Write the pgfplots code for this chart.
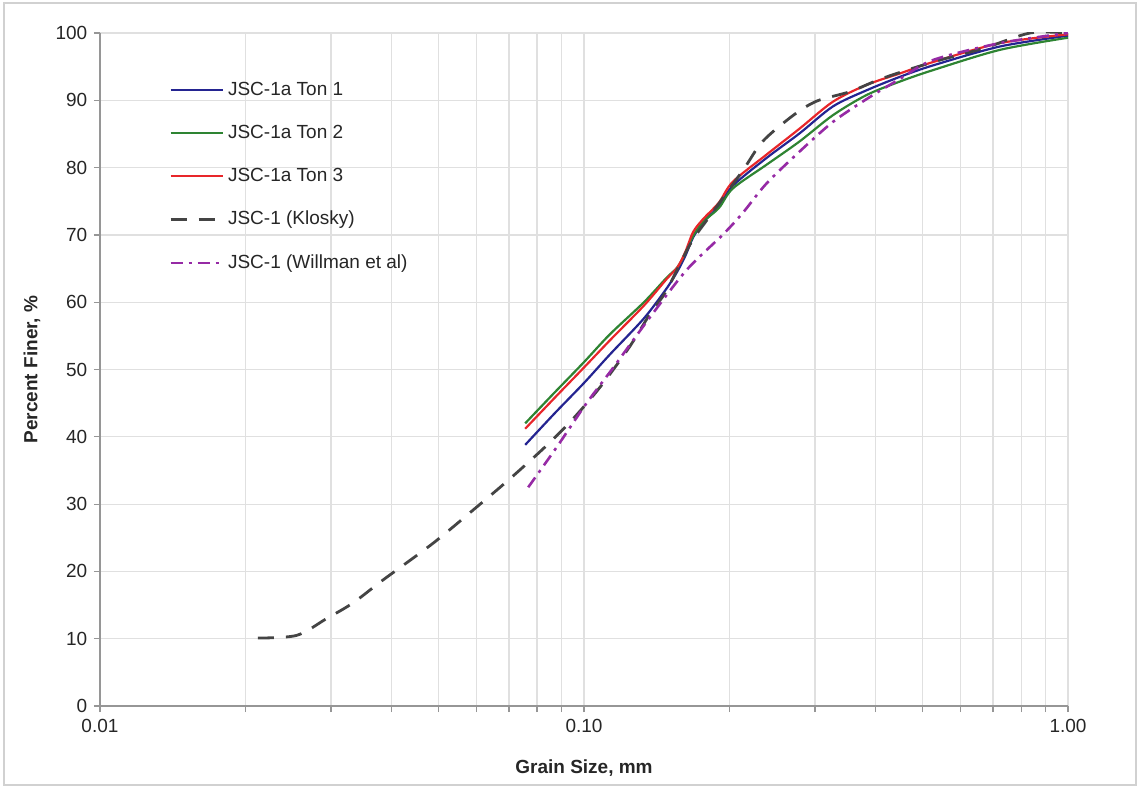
\documentclass[border=0pt]{standalone}
\usepackage{fontspec}
\setmainfont{Liberation Sans}
\usepackage{pgfplots}
\pgfplotsset{compat=1.18}
\definecolor{tonblue}{RGB}{36,36,145}
\definecolor{tongreen}{RGB}{46,132,50}
\definecolor{tonred}{RGB}{232,38,42}
\definecolor{klosky}{RGB}{68,68,68}
\definecolor{willman}{RGB}{150,42,165}
\definecolor{gridc}{RGB}{224,224,224}
\definecolor{axisc}{RGB}{150,150,150}
\pgfplotstableread{
x y
0.0756 38.8
0.0870 43.5
0.1000 48.0
0.1130 52.2
0.1330 57.6
0.1480 62.0
0.1560 64.6
0.1620 66.9
0.1680 69.6
0.1760 71.8
0.1900 74.3
0.2030 77.3
0.2380 81.4
0.2790 85.1
0.3270 89.1
0.3840 91.5
0.4500 93.5
0.5270 95.2
0.7240 98.0
1.0000 99.6
}\tonone
\pgfplotstableread{
x y
0.0756 42.0
0.0870 46.6
0.1000 51.1
0.1130 55.2
0.1330 60.0
0.1480 63.6
0.1560 65.2
0.1620 67.3
0.1680 69.8
0.1760 71.9
0.1900 74.0
0.2030 76.9
0.2380 80.4
0.2790 83.9
0.3270 87.8
0.3840 90.8
0.4500 92.8
0.5270 94.5
0.7240 97.5
1.0000 99.3
}\tontwo
\pgfplotstableread{
x y
0.0756 41.2
0.0870 45.8
0.1000 50.3
0.1130 54.3
0.1330 59.5
0.1480 63.4
0.1560 65.2
0.1620 67.5
0.1680 70.4
0.1760 72.3
0.1900 74.8
0.2030 77.9
0.2380 81.9
0.2790 85.8
0.3270 89.8
0.3840 92.3
0.4500 94.0
0.5270 95.7
0.7240 98.5
1.0000 99.8
}\tonthree
\pgfplotstableread{
x y
0.0212 10.1
0.0255 10.5
0.0294 13.0
0.0333 15.3
0.0384 18.7
0.0488 24.2
0.0601 29.6
0.0704 33.8
0.0837 38.7
0.0950 42.7
0.1080 47.4
0.1240 53.3
0.1370 58.3
0.1480 61.7
0.1660 68.7
0.1820 72.8
0.2130 79.6
0.2340 83.9
0.2710 87.8
0.3030 89.9
0.3550 91.3
0.4150 93.3
0.5270 95.7
0.6680 97.7
0.8350 100.0
1.0000 100.0
}\kloskytab
\pgfplotstableread{
x y
0.0767 32.5
0.0879 38.5
0.1010 44.9
0.1150 50.3
0.1370 57.8
0.1630 64.8
0.1940 70.1
0.2130 73.3
0.2380 77.6
0.2790 82.4
0.3270 86.8
0.3840 90.2
0.4500 93.2
0.5270 96.0
0.7240 98.5
1.0000 100.0
}\willmantab
\begin{document}
\fontsize{9.5bp}{11bp}\selectfont
\begin{tikzpicture}[x=1bp,y=1bp]
\useasboundingbox (0,0) rectangle (570,394);
\draw[black!18, line width=0.7bp] (2,1.5) rectangle (568,392.5);
\begin{axis}[
  at={(50bp,41bp)}, anchor=south west,
  scale only axis, width=484bp, height=336.5bp,
  xmode=log, xmin=0.01, xmax=1, ymin=0, ymax=100,
  xtick={0.01,0.1,1}, xticklabels={0.01,0.10,1.00},
  ytick={0,10,...,100},
  /pgf/number format/assume math mode=true,
  ticklabel style={font=\fontsize{9.5bp}{11bp}\selectfont, text=black!85},
  axis lines*=left, axis line style={-, axisc, line width=0.8bp},
  tick align=outside,
  major tick length=3bp, minor tick length=3bp,
  tick style={axisc, line width=0.6bp},
  xmajorgrids, xminorgrids, ymajorgrids,
  major grid style={gridc, line width=0.6bp},
  minor grid style={gridc, line width=0.6bp},
  xlabel={Grain Size, mm},
  ylabel={Percent Finer, \%},
  label style={font=\fontsize{9.5bp}{11bp}\selectfont\bfseries, text=black!85},
  xlabel style={at={(axis description cs:0.5,-0.0921)}, anchor=center},
  ylabel style={at={(axis description cs:-0.0702,0.5)}, anchor=center, rotate=0},
  legend cell align=left,
  legend style={draw=none, fill=none, at={(0.065,0.94)}, anchor=north west,
    font=\fontsize{9.5bp}{11bp}\selectfont, text=black!85, row sep=9.5bp},
  legend image code/.code={\draw[#1] (0bp,0bp) -- (26bp,0bp);},
]
\addplot[tonblue, line width=1.1bp, smooth] table {\tonone};
\addlegendentry{JSC-1a Ton 1}
\addplot[tongreen, line width=1.1bp, smooth] table {\tontwo};
\addlegendentry{JSC-1a Ton 2}
\addplot[tonred, line width=1.1bp, smooth] table {\tonthree};
\addlegendentry{JSC-1a Ton 3}
\addplot[klosky, line width=1.4bp, smooth, dash pattern=on 8bp off 6bp] table {\kloskytab};
\addlegendentry{JSC-1 (Klosky)}
\addplot[willman, line width=1.3bp, smooth, dash pattern=on 6bp off 3bp on 1.5bp off 3bp] table {\willmantab};
\addlegendentry{JSC-1 (Willman et al)}
\end{axis}
\end{tikzpicture}
\end{document}
